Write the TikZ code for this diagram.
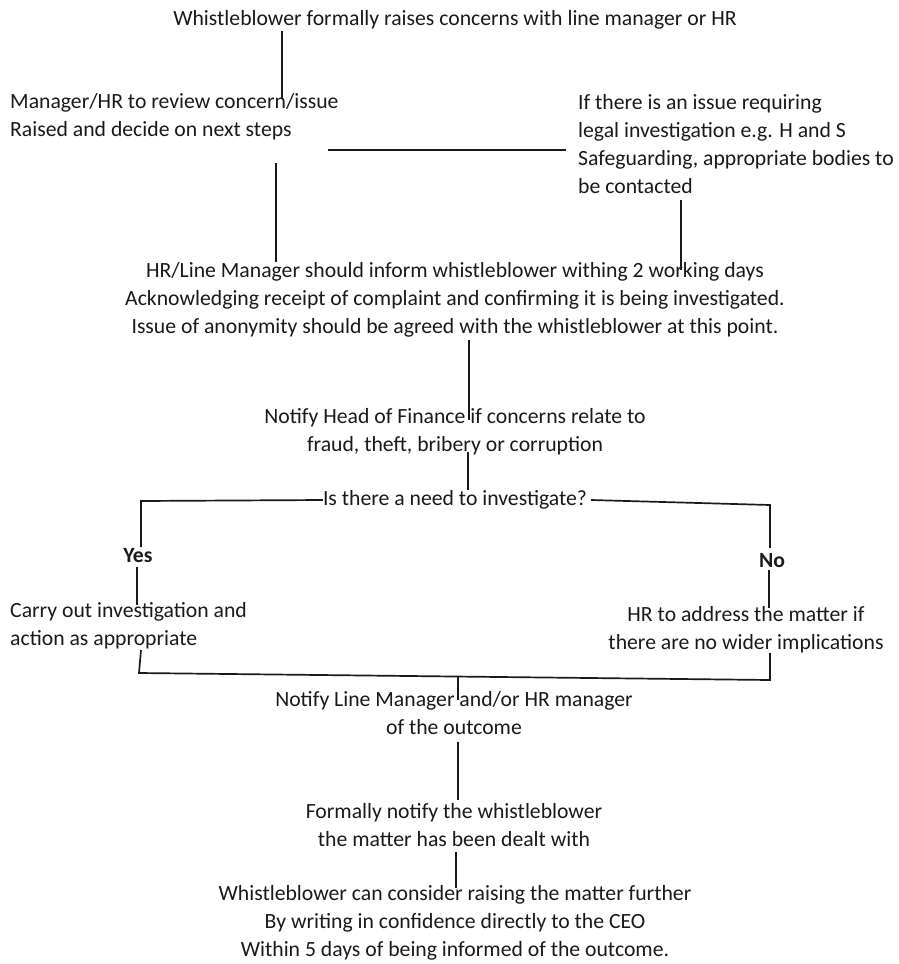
\documentclass[tikz,border=0pt]{standalone}
\usepackage{fontspec}
\setmainfont{Carlito}
\definecolor{ink}{HTML}{1A1A1A}
\begin{document}
\begin{tikzpicture}[x=1pt,y=-1pt,
  txt/.style={font=\fontsize{21.7}{28}\selectfont, inner sep=0pt, align=center, text=ink},
  ltxt/.style={txt, align=left, anchor=west},
  lbl/.style={txt, font=\fontsize{21.7}{28}\selectfont\bfseries},
  ln/.style={line width=1.7pt, draw=ink}]
\fill[white] (0,0) rectangle (899,964);
\useasboundingbox (0,0) rectangle (899,964);

\node[txt] (start) at (455,20) {Whistleblower formally raises concerns with line manager or HR};
\node[ltxt] (review) at (10,117) {Manager/HR to review concern/issue\\Raised and decide on next steps};
\node[ltxt] (legal) at (578,144) {If there is an issue requiring\\legal investigation e.g. H and S\\Safeguarding, appropriate bodies to\\be contacted};
\node[txt] (inform) at (455,300) {HR/Line Manager should inform whistleblower withing 2 working days\\Acknowledging receipt of complaint and confirming it is being investigated.\\Issue of anonymity should be agreed with the whistleblower at this point.};
\node[txt] (finance) at (455,432) {Notify Head of Finance if concerns relate to\\fraud, theft, bribery or corruption};
\node[txt] (need) at (455,500) {Is there a need to investigate?};
\node[lbl] (yes) at (138,556) {Yes};
\node[lbl] (no) at (772,561) {No};
\node[ltxt] (carry) at (10,626) {Carry out investigation and\\action as appropriate};
\node[txt] (address) at (746,630) {HR to address the matter if\\there are no wider implications};
\node[txt] (outcome) at (454,713) {Notify Line Manager and/or HR manager\\of the outcome};
\node[txt] (formal) at (454,825) {Formally notify the whistleblower\\the matter has been dealt with};
\node[txt] (ceo) at (455,923) {Whistleblower can consider raising the matter further\\By writing in confidence directly to the CEO\\Within 5 days of being informed of the outcome.};

% connector end points
\coordinate (a1) at (282,31);   \coordinate (a2) at (282,98);
\coordinate (h1) at (328,150);  \coordinate (h2) at (566,150);
\coordinate (b1) at (276,163);  \coordinate (b2) at (276,262);
\coordinate (c1) at (681,200);  \coordinate (c2) at (681,270);
\coordinate (d1) at (469,340);  \coordinate (d2) at (469,420);
\coordinate (e1) at (468,452);  \coordinate (e2) at (468,490);
\coordinate (yl) at (141,501);  \coordinate (yd) at (141,547);
\coordinate (nr) at (770,505);  \coordinate (nd) at (770,548);
\coordinate (y1) at (137,567);  \coordinate (y2) at (137,605);
\coordinate (n1) at (769,570);  \coordinate (n2) at (769,608);
\coordinate (j1) at (141,650);  \coordinate (j2) at (139,673);
\coordinate (j3) at (770,680);  \coordinate (j4) at (770,653);
\coordinate (k1) at (458,677);  \coordinate (k2) at (458,700);
\coordinate (m1) at (458,742);  \coordinate (m2) at (458,800);
\coordinate (p1) at (456,852);  \coordinate (p2) at (456,888);

\draw[ln] (a1) -- (a2);
\draw[ln] (h1) -- (h2);
\draw[ln] (b1) -- (b2);
\draw[ln] (c1) -- (c2);
\draw[ln] (d1) -- (d2);
\draw[ln] (e1) -- (e2);
\draw[ln] (need.west) -- (yl) -- (yd);
\draw[ln] ([xshift=4pt]need.east) -- (nr) -- (nd);
\draw[ln] (y1) -- (y2);
\draw[ln] (n1) -- (n2);
\draw[ln] (j1) -- (j2) -- (j3) -- (j4);
\draw[ln] (k1) -- (k2);
\draw[ln] (m1) -- (m2);
\draw[ln] (p1) -- (p2);
\end{tikzpicture}
\end{document}
